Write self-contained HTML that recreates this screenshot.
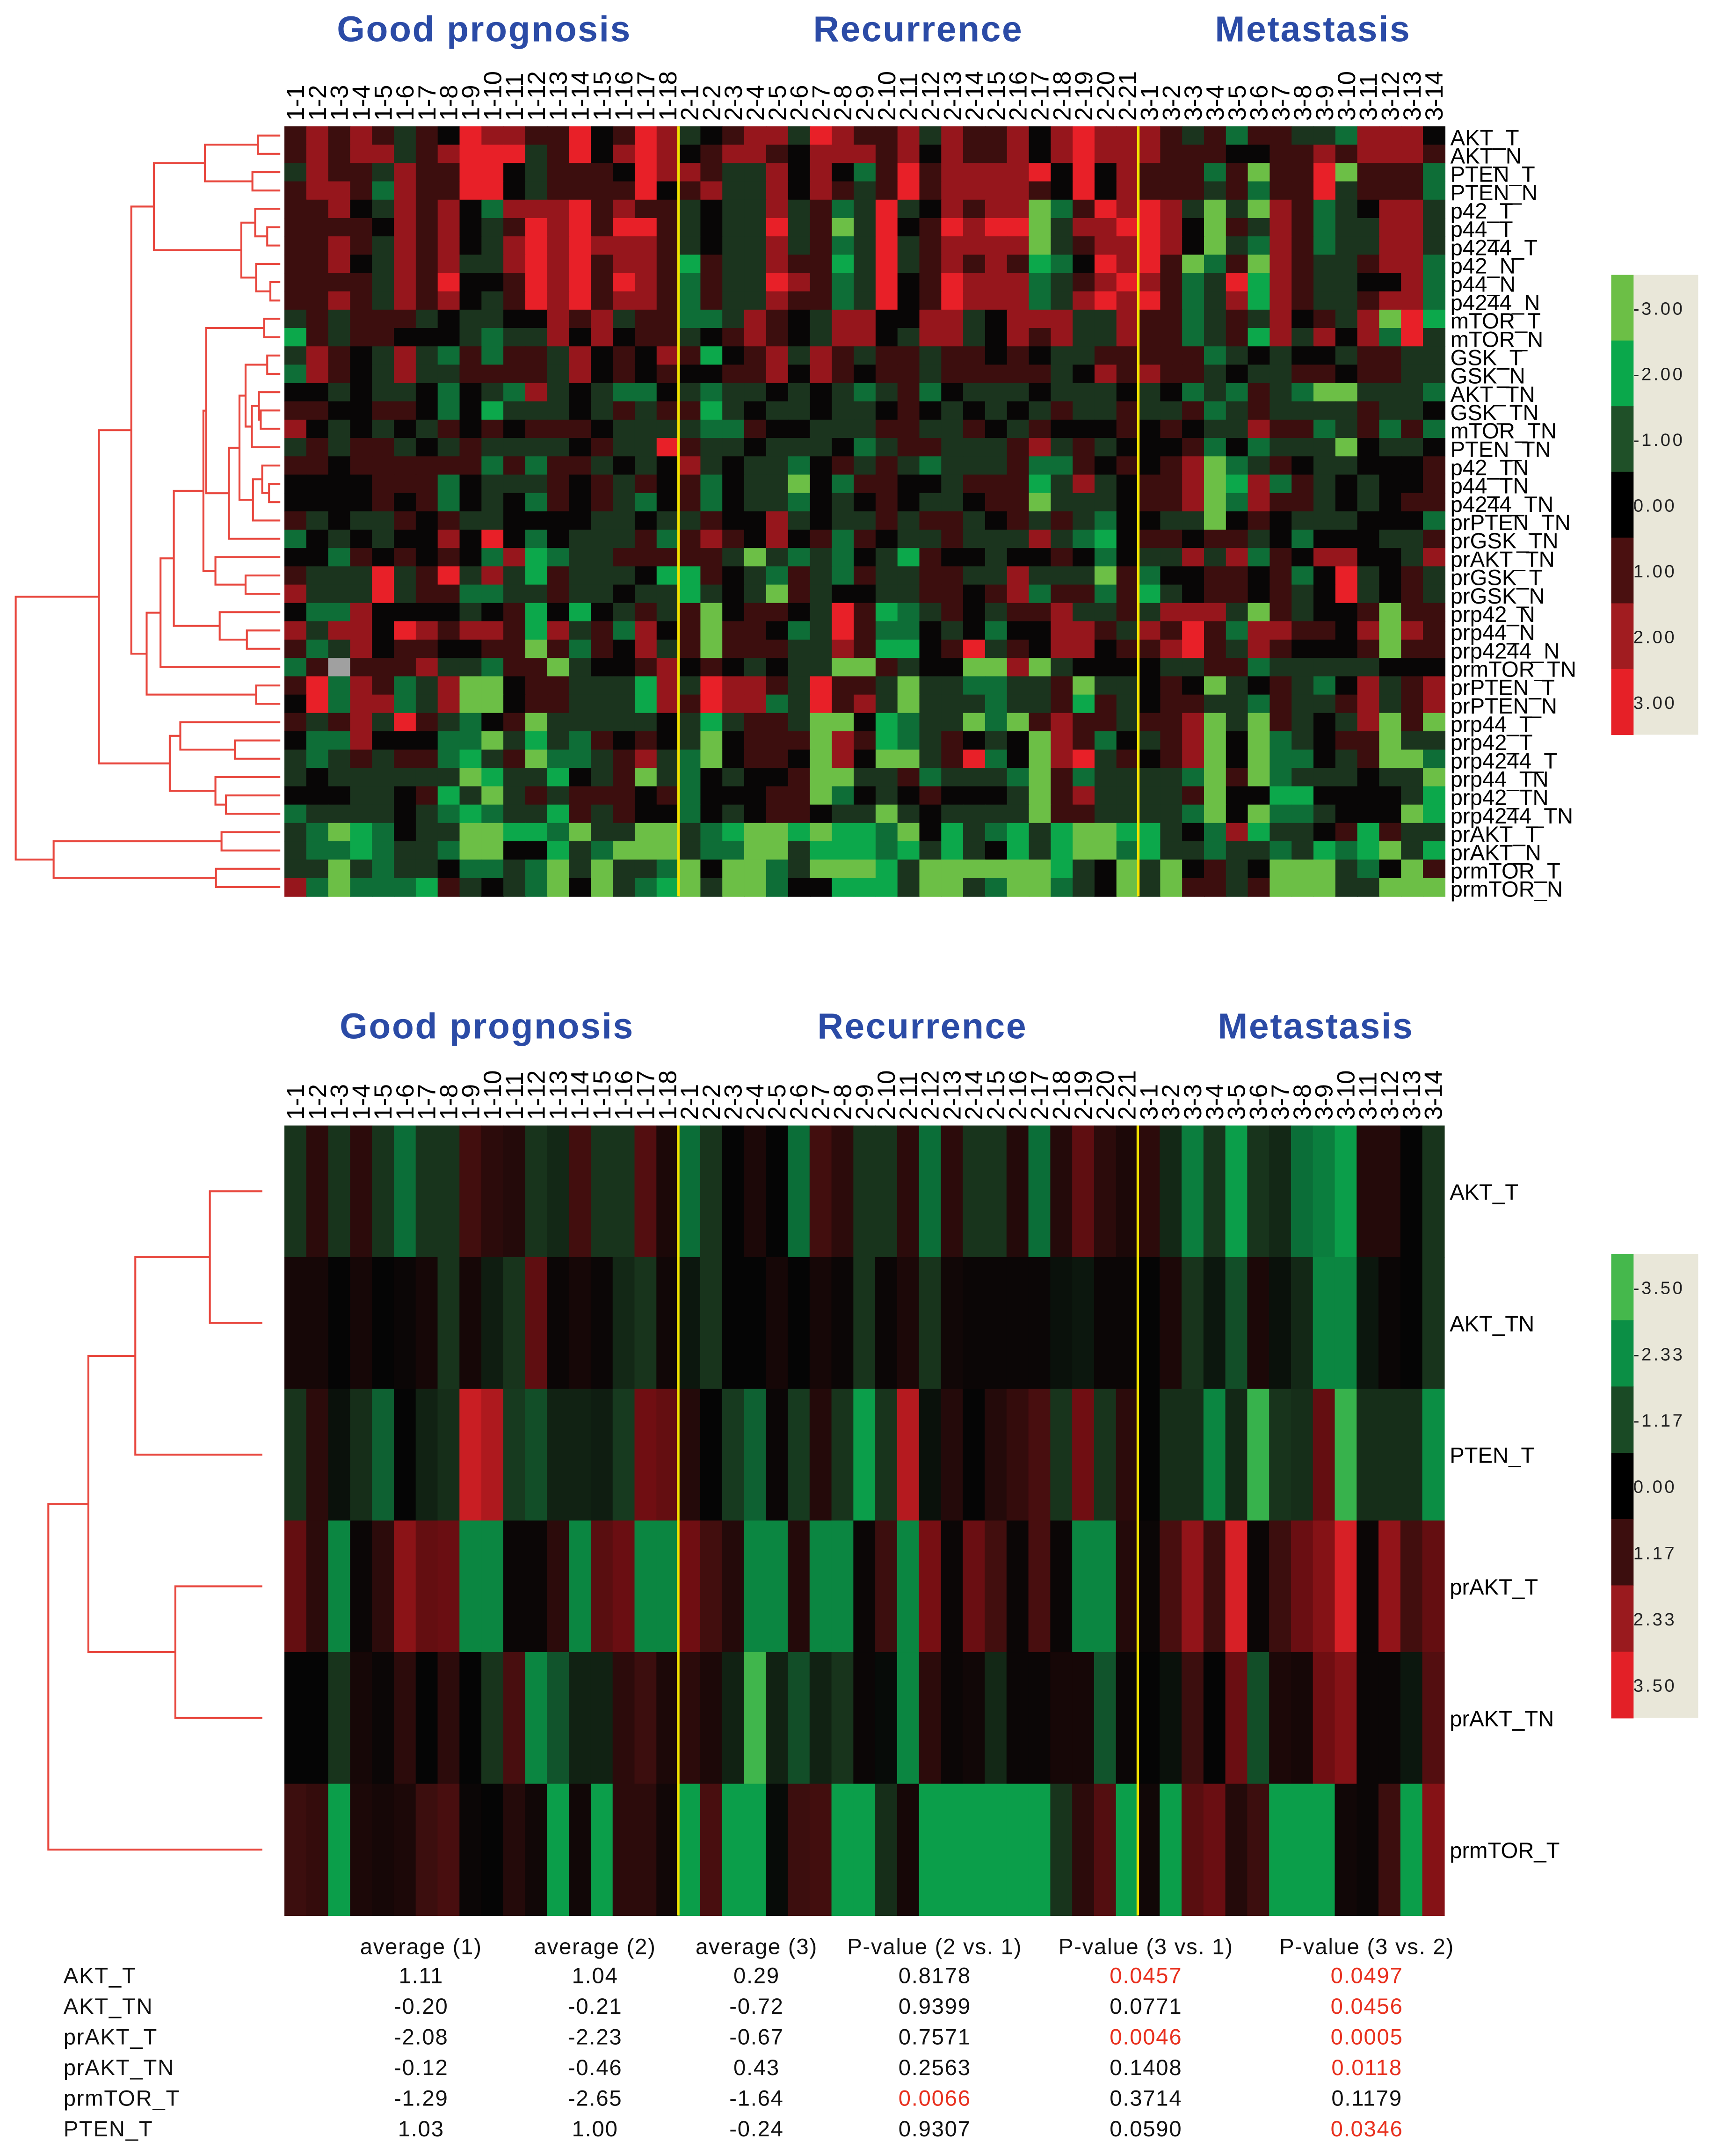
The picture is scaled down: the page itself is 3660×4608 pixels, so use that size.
<!DOCTYPE html>
<html><head><meta charset="utf-8"><title>Heatmap</title>
<style>
html,body{margin:0;padding:0;background:#fff;}
svg{display:block;}
.ttl{font-family:"Liberation Sans",sans-serif;font-weight:bold;font-size:26px;fill:#2b4ba6;letter-spacing:0.9px;}
.cl{font-family:"Liberation Sans",sans-serif;font-size:18px;fill:#000;}
.rl{font-family:"Liberation Sans",sans-serif;font-size:16px;fill:#000;}
.sc{font-family:"Liberation Sans",sans-serif;font-size:13px;fill:#222;letter-spacing:1.5px;}
.tb{font-family:"Liberation Sans",sans-serif;font-size:16px;fill:#111;letter-spacing:0.6px;}
</style></head>
<body>
<svg id="fig" xmlns="http://www.w3.org/2000/svg" width="3660" height="4608" viewBox="0 0 1240 1561.2" preserveAspectRatio="none">
<rect x="0" y="0" width="1240" height="1562" fill="#fff"/>
<text class="ttl" x="244" y="30">Good prognosis</text>
<text class="ttl" x="589" y="30">Recurrence</text>
<text class="ttl" x="880" y="30">Metastasis</text>
<text class="ttl" x="246" y="752">Good prognosis</text>
<text class="ttl" x="592" y="752">Recurrence</text>
<text class="ttl" x="882" y="752">Metastasis</text>
<g id="gTop"></g>
<g id="gBot"></g>
<g id="gTable"></g>
</svg>
<script>
const colLabels = ["1-1","1-2","1-3","1-4","1-5","1-6","1-7","1-8","1-9","1-10","1-11","1-12","1-13","1-14","1-15","1-16","1-17","1-18",
"2-1","2-2","2-3","2-4","2-5","2-6","2-7","2-8","2-9","2-10","2-11","2-12","2-13","2-14","2-15","2-16","2-17","2-18","2-19","2-20","2-21",
"3-1","3-2","3-3","3-4","3-5","3-6","3-7","3-8","3-9","3-10","3-11","3-12","3-13","3-14"];
const groupBreaks = [18, 39];
const topRowLabels = ["AKT_T","AKT_N","PTEN_T","PTEN_N","p42_T","p44_T","p4244_T","p42_N","p44_N","p4244_N","mTOR_T","mTOR_N","GSK_T","GSK_N","AKT_TN","GSK_TN","mTOR_TN","PTEN_TN","p42_TN","p44_TN","p4244_TN","prPTEN_TN","prGSK_TN","prAKT_TN","prGSK_T","prGSK_N","prp42_N","prp44_N","prp4244_N","prmTOR_TN","prPTEN_T","prPTEN_N","prp44_T","prp42_T","prp4244_T","prp44_TN","prp42_TN","prp4244_TN","prAKT_T","prAKT_N","prmTOR_T","prmTOR_N"];
const topValues = [
[1,2,1,2,1,-1,1,0,3,2,2,1,1,3,0,1,3,2,-1,0,1,2,2,-1,3,2,1,1,2,-1,2,1,1,2,0,2,3,2,2,2,1,-1,1,-2,1,1,-1,-1,-2,2,2,2,0],
[1,2,1,2,2,-1,1,2,3,3,3,-1,1,3,0,2,3,2,0,1,2,2,1,0,2,2,2,1,2,0,2,1,1,2,0,2,3,2,2,2,1,1,1,0,0,1,1,2,1,2,2,2,1],
[-1,2,1,1,-1,2,1,1,3,3,0,-1,1,1,1,0,3,2,2,1,-1,-1,2,0,2,0,-2,1,3,1,2,2,2,2,3,0,3,0,2,1,1,1,-2,1,-3,1,1,3,-3,1,1,1,-2],
[1,2,2,1,-2,2,1,1,3,3,0,-1,1,1,1,1,3,0,1,2,-1,-1,2,0,2,1,-1,1,3,1,2,2,2,2,1,0,3,0,2,1,1,1,-1,1,-2,1,1,3,-1,1,1,1,-2],
[1,1,2,0,-1,2,1,2,0,-2,2,2,2,3,1,2,1,1,-1,0,-1,-1,2,-1,1,-2,-1,3,-1,0,2,1,2,2,-3,-2,1,3,2,3,2,-1,-3,-1,-3,2,1,-2,-1,0,2,2,-1],
[1,1,1,1,0,2,1,2,0,-1,1,3,2,3,1,3,3,1,-1,0,-1,-1,3,-1,1,-3,-1,3,0,1,3,2,3,3,-3,-1,2,2,3,3,2,0,-3,1,-1,2,1,-2,-1,-1,2,2,-1],
[1,1,2,1,-1,2,1,2,0,-1,2,3,2,3,2,2,2,1,-1,0,-1,-1,2,-1,1,-2,-1,3,-1,1,2,2,2,2,-3,-1,1,2,2,3,2,0,-3,-1,-2,2,1,-2,-1,-1,2,2,-1],
[1,1,2,0,-1,2,1,2,-1,-1,2,3,2,3,1,2,2,1,-2.5,1,-1,-1,2,1,1,-2.5,-1,3,-1,1,2,1,2,1,-2.5,-2,0,3,2,3,1,-3,-2,1,-3,2,1,-1,-1,1,2,2,-2],
[1,1,1,1,-1,2,1,3,0,0,1,3,2,3,1,3,2,1,-2,1,-1,-1,3,2,1,-2,-1,3,0,1,3,2,2,2,-2,-1,1,2,3,2,1,-2,-1,3,-2.5,2,1,-1,-1,0,0,2,-2],
[1,1,2,1,-1,2,1,2,0,-1,1,3,2,3,1,2,2,1,-2,1,-1,-1,2,1,1,-2,-1,3,0,1,3,2,2,2,-2,-1,2,3,2,3,1,-2,-1,2,-2.5,2,1,-1,-1,1,2,2,-2],
[-1,1,-1,1,1,1,-1,0,-1,-1,0,0,2,1,2,-1,1,1,-2,-2,-1,2,1,0,-1,2,2,0,0,2,2,-1,0,2,2,2,-1,-1,2,1,1,-2,-1,1,-1,2,0,1,-1,2,-3,3,-2.5],
[-2.5,1,-1,1,1,0,0,0,-1,-2,-1,-1,2,0,2,0,1,1,-1,0,1,2,1,0,-1,2,2,0,-1,2,2,-1,0,2,1,2,-1,-1,2,1,1,-2,-1,1,-2.5,2,-1,2,0,2,-2,3,-1],
[-1,2,1,0,-1,2,-1,-2,1,-2,1,1,-1,2,0,1,0,2,1,-2.5,0,1,2,-1,2,1,-1,1,1,-1,1,1,0,1,0,-1,-1,1,1,1,1,1,-2,-1,0,-1,0,0,-1,1,1,-1,-1],
[-2,2,1,0,-1,2,-1,-1,1,1,1,1,-1,2,0,1,0,1,0,0,1,1,2,0,2,1,0,1,1,-1,1,1,1,1,1,-1,0,2,1,2,1,1,-1,0,-1,-1,1,1,0,1,1,-1,-1],
[0,0,-1,0,-1,-1,0,-2,0,-1,-2,2,-1,0,-1,-2,-2,0,-1,-2,-1,-1,0,-1,0,-1,-2,-1,1,-2,0,-1,-1,-1,0,-1,-1,-1,0,-1,0,-2,-1,-2,1,-1,-2,-3,-3,-1,-1,-1,-2],
[1,1,0,0,1,1,0,-2,0,-2.5,-1,-1,-1,0,-1,1,-1,1,1,-2.5,-1,0,-1,-1,0,-1,-1,0,1,0,-1,0,-1,0,-1,1,-1,-1,1,-1,-1,1,-2,-1,1,-1,-1,-1,-1,1,-1,-1,0],
[2,0,-1,0,-1,0,-1,1,0,1,0,1,1,1,0,-1,-1,-1,-1,-2,-2,1,0,0,-1,-1,-1,1,1,-1,-1,1,0,-1,1,0,0,0,1,0,1,0,-1,-1,2,1,1,-2,-1,1,-2,1,-2],
[-1,1,-1,1,1,-1,0,-1,1,-1,-1,-1,-1,0,1,-1,-1,3,1,-1,-1,0,-1,-1,-1,0,-2,-1,1,1,-1,-1,-1,1,2,-1,1,-1,0,0,0,1,-2,0,-2,-1,-1,-1,-3,0,-1,-1,0],
[1,1,0,1,1,1,1,1,1,-2,1,-2,1,1,-1,0,-1,0,2,-1,0,-1,-1,-2,0,1,-1,1,-1,-2,-1,-1,-1,1,-2,-2,1,0,1,0,1,2,-3,-2,-1,1,0,-1,-1,0,0,0,1],
[0,0,0,0,1,1,1,-2,0,-1,-1,-1,1,0,1,-1,1,0,1,-2,0,-1,-1,-3,0,-2,1,1,0,0,-1,1,1,1,-2.5,-1,2,-1,0,1,1,2,-3,-2.5,2,-2,1,-1,0,-1,0,0,1],
[0,0,0,0,1,0,1,-2,0,-1,0,-2,1,0,1,-1,-2,0,1,-2,0,-1,-1,-2,0,-1,0,1,0,-1,-1,0,1,1,-3,-1,-1,-1,0,1,1,2,-3,-2,2,1,1,-1,0,-1,0,1,1],
[1,-1,0,-1,-1,1,0,1,-1,-1,0,0,0,0,-1,-1,0,-1,-1,1,0,0,2,-1,0,-1,-1,1,-1,1,1,-1,0,1,-1,1,-1,-2,0,0,-1,-1,-3,0,1,0,-1,-1,-1,0,0,0,-2],
[-2,0,-1,0,-1,0,0,2,0,3,0,-2,0,-1,-1,-1,1,-2,1,2,1,0,2,0,1,-2,1,0,-1,-1,1,-1,-1,-1,2,-1,-2,-2.5,0,1,1,0,1,1,-1,0,-2,0,0,0,-1,-1,1],
[0,0,-2,1,0,1,0,1,0,-2,2,-2.5,-2,-1,-1,1,1,1,1,1,-1,-3,-1,-2,-1,-2,0,-1,-2.5,1,0,0,-1,0,0,1,0,-2,0,-1,-1,2,-1,2,-2,1,0,2,2,0,0,-1,2],
[1,-1,-1,-1,3,-1,1,3,-1,2,-1,-2.5,1,-1,-1,-1,0,-2.5,-2.5,1,0,-1,-2,1,-1,-2,1,-1,-1,1,1,-1,-1,2,-1,-1,-1,-3,1,-2,0,0,1,1,0,1,-2,0,3,-1,0,1,-1],
[2,-1,-1,-1,3,-1,1,1,-2,-2,-1,-1,1,-1,-1,0,-1,-1,-2.5,-1,0,-1,-3,1,-1,0,0,-1,-1,1,1,0,1,2,-2,1,1,-2,1,-2.5,-1,0,1,1,0,1,-1,0,3,-1,0,1,-1],
[0,-2,-2,2,0,0,0,0,-1,0,1,-2.5,0,-2.5,0,-1,1,-1,1,-3,0,1,1,0,-1,3,1,-2.5,-2,-1,1,0,-1,1,1,2,-1,-1,1,-1,2,2,2,-1,-3,1,-1,0,0,1,-3,1,1],
[2,-1,2,2,0,3,2,1,2,2,1,-2.5,2,-1,1,-2,2,0,1,-3,1,1,0,-2,-1,3,1,-2,-2,0,-1,0,-2,0,0,2,2,1,-1,2,1,3,1,-2,2,2,1,1,0,2,-3,2,1],
[1,-2,-1,2,0,1,1,0,0,1,1,-3,1,-2,1,0,2,-1,1,-3,1,1,1,-1,-1,2,1,-2.5,-2.5,0,1,3,-1,1,0,2,2,0,1,1,2,3,1,-1,2,1,0,0,0,1,-3,1,1],
[-2,1,null,1,1,1,2,-1,-1,-2,1,1,-3,-1,0,0,1,2,0,1,0,-1,0,-1,-1,-3,-3,1,-1,0,0,-3,-3,2,-3,-1,0,0,0,0,-1,-1,1,1,-2,-1,-1,-1,-1,-1,0,0,0],
[1,3,-2,2,1,-2,-1,2,-3,-3,0,1,1,-1,-1,-1,-2.5,2,-1,3,2,2,1,-1,3,1,1,-1,-3,-1,-1,-2,-2,-1,-1,1,-3,-1,-1,0,1,0,-3,-1,0,1,-1,-2,0,2,-1,1,2],
[0,3,-2,2,2,-2,-1,2,-3,-3,0,1,1,-1,-1,-1,-2.5,2,1,3,2,2,-2,-1,3,1,2,-1,-3,-1,-1,-1,-2,-1,-1,1,-2.5,1,-1,0,1,1,-1,-1,-2,1,-1,-1,1,2,-1,1,2],
[1,-1,1,2,-1,3,1,-1,-2,0,1,-3,-1,-1,-1,-1,-1,0,-1,-2.5,-1,1,1,-1,-3,-3,0,-2.5,-2,-1,-1,-3,-2,-3,1,2,1,1,-1,1,1,2,-3,-1,-3,1,-1,0,-1,2,-3,1,-3],
[0,-2,-2,2,0,0,0,-2,-2,-3,-1,-2.5,-1,-2,1,0,1,0,-1,-3,0,1,1,1,-3,2,1,-2.5,-2,-1,1,0,-1,0,-3,2,1,-2,0,-1,1,2,-3,0,-3,-2,-1,0,1,1,-3,-1,-1],
[-1,-2,-1,1,-1,1,1,-2,-2.5,-1,1,-3,-2,-2,-1,1,2,-1,-2,-3,0,1,1,0,-3,2,0,-3,-3,-1,1,3,-2,0,-3,2,3,-1,1,0,1,2,-3,0,-3,-2,-2,0,-1,1,-3,-3,-2],
[-1,0,-1,-1,-1,-1,-1,-1,-3,-2.5,-1,-1,-2.5,0,-1,1,-3,-1,-2,0,-1,0,0,1,-3,-3,-1,-1,1,-2,-1,-1,-1,-2,-3,1,-2,-1,-1,-1,-1,-2,-3,1,-3,-2,-1,-1,-1,0,-1,-1,-3],
[0,0,0,-1,-1,0,1,-2.5,-1,-3,-1,1,-1,1,1,1,0,1,-2,0,0,0,1,1,-3,-2,0,-1,0,1,0,0,0,-1,-3,1,2,-1,-1,-1,-1,1,-3,0,0,-2.5,-2.5,0,0,0,0,-1,-2.5],
[-2,-1,-1,-1,-1,0,-1,-2,-2.5,-2,-1,-1,-2.5,1,-1,1,0,0,-2,0,-1,0,1,1,0,-1,-1,-3,-1,0,-1,-1,-1,-1,-3,1,1,-1,-1,-1,-1,-2,-3,0,-3,-2,-2,-1,0,0,0,-3,-2.5],
[-1,-2,-3,-2.5,-2,0,-1,-1,-3,-3,-2.5,-2.5,-2,-3,-1,-1,-3,-3,-1,-2,-2.5,-3,-3,-2.5,-3,-2.5,-2.5,-2,-3,0,-2.5,-1,-2,-2.5,-1,-2.5,-3,-3,-2.5,-2.5,-1,0,-2,2,-2.5,-1,-1,0,1,-2.5,1,-1,-1],
[-1,-2,-2,-2.5,-2,-1,-1,-2,-3,-3,0,0,-2.5,-1,-2,-3,-3,-3,-1,-2,-2,-3,-3,-1,-2.5,-2.5,-2.5,-2,-2.5,-1,-2.5,-1,0,-2.5,-1,-2.5,-3,-3,-2,-2.5,-1,-1,-2,-1,-1,-2,-1,-2.5,-2,-2.5,-3,-1,-2.5],
[-1,-1,-3,-1,-2,-1,-1,0,-2,-2,-1,-2,-3,-1,-3,-1,-1,-2,-3,0,-3,-3,-2,-1,-3,-3,-3,-2.5,-1,-3,-3,-3,-3,-3,-3,-2.5,-1,0,-3,-1,-3,0,1,-1,0,-3,-3,-3,-1,-2,0,-3,1],
[2,-2,-3,-2,-2,-2,-2.5,1,-1,0,-1,-2,-3,0,-3,-1,-2,-2.5,-3,-1,-3,-3,-2,0,0,-2.5,-2.5,-2.5,-1,-3,-3,-1,-2,-3,-3,-2,-1,0,-3,-1,-3,1,1,-1,1,-3,-3,-3,-1,-1,-3,-3,-3]
];
const botRowLabels = ["AKT_T","AKT_TN","PTEN_T","prAKT_T","prAKT_TN","prmTOR_T"];
const botValues = [
[-0.8,0.6,-0.8,0.6,-0.8,-1.7,-0.8,-0.8,0.9,0.6,0.5,-0.8,-0.6,0.9,-0.8,-0.8,1.2,0.4,-1.7,-0.8,0,0.4,0,-1.7,0.9,0.6,-0.8,-0.8,0.6,-1.7,0.6,-0.8,-0.8,0.5,-1.7,0.5,1.4,0.6,0.4,0.6,-0.6,-1.9,-0.8,-2.3,-0.8,-0.6,-1.7,-1.9,-2.3,0.5,0.5,0,-0.8],
[0.3,0.3,0,0.3,0,0.1,0.3,-0.8,0.3,-0.4,-0.8,1.4,0.1,0.3,0.1,-0.6,-0.8,0.2,-0.3,-0.8,0,0,0.3,0,0.3,0.1,-0.8,0.1,0.4,-0.8,0.2,0.1,0.1,0.1,0.1,-0.2,-0.3,0.1,0.1,0,0.4,-0.8,-0.3,-1.2,0.4,-0.2,-0.6,-2,-2,-0.3,0.1,0,-0.8],
[-0.8,0.6,-0.2,-0.7,-1.5,0,-0.5,-0.7,3,2.6,-0.9,-1.2,-0.5,-0.5,-0.4,-0.9,1.7,1.5,0.5,0,-0.9,-1.5,0.1,-0.9,0.5,-0.8,-2.3,-0.8,2.7,-0.2,0.5,0,0.5,0.7,1,-0.8,1.7,-0.8,0.6,0,-0.7,-0.7,-2,-0.6,-3.2,-0.8,-0.7,1.5,-3.2,-0.7,-0.7,-0.7,-2.1],
[1.5,0.6,-2,0.1,0.6,2.1,1.5,1.6,-2,-2,0.1,0.1,0.6,-2,1.3,1.6,-2,-2,1.7,0.9,0.5,-2,-2,0.5,-2,-2,0.1,0.8,-2,1.8,0.1,1.6,0.9,0.1,1,0.1,-2,-2,0.5,0.1,1,2.2,0.8,3.3,0.1,0.8,1.6,2,3.2,0.1,2.2,0.9,1.5],
[0,0,-0.8,0.3,0.1,0.6,0,0.6,0,-0.8,1,-2,-1.3,-0.5,-0.5,0.6,0.8,0.4,0.6,0.4,-0.5,-3.4,-0.5,-1.2,-0.5,-0.8,0.1,-0.1,-2,0.6,0.1,0.2,-0.6,0.1,0.1,0.3,0.3,-1.3,0.1,0,-0.2,0.8,0,1.6,-1.2,0.4,0.3,1.7,2,0.1,0.1,-0.3,1.2],
[0.8,0.7,-2.3,0.4,0.3,0.4,0.8,1,0.1,0,0.5,0.2,-2.3,0.2,-2.3,0.6,0.6,0.2,-2.3,1,-2.3,-2.3,-0.1,0.8,0.9,-2.3,-2.3,-0.7,0.3,-2.3,-2.3,-2.3,-2.3,-2.3,-2.3,-0.8,0.6,1.2,-2.3,0.2,-2.3,1.3,1.6,0.5,0.8,-2.3,-2.3,-2.3,0.2,0.1,0.8,-2.3,2]
];
const topScaleLabels = ["-3.00","-2.00","-1.00","0.00","1.00","2.00","3.00"];
const topScaleColors = ["#6cbf46","#0aa84b","#1f5028","#000000","#4a1010","#a11c20","#e62027"];
const botScaleLabels = ["-3.50","-2.33","-1.17","0.00","1.17","2.33","3.50"];
const botScaleColors = ["#45b84c","#0b8f45","#1a4a25","#000000","#3c0e0e","#9a1a1e","#e32027"];
const tableHeaders = ["average (1)","average (2)","average (3)","P-value (2 vs. 1)","P-value (3 vs. 1)","P-value (3 vs. 2)"];
const tableRowLabels = ["AKT_T","AKT_TN","prAKT_T","prAKT_TN","prmTOR_T","PTEN_T"];
const avg1 = ["1.11","-0.20","-2.08","-0.12","-1.29","1.03"];
const avg2 = ["1.04","-0.21","-2.23","-0.46","-2.65","1.00"];
const avg3 = ["0.29","-0.72","-0.67","0.43","-1.64","-0.24"];
const p21 = ["0.8178","0.9399","0.7571","0.2563","0.0066","0.9307"];
const p31 = ["0.0457","0.0771","0.0046","0.1408","0.3714","0.0590"];
const p32 = ["0.0497","0.0456","0.0005","0.0118","0.1179","0.0346"];
const topTree = [85,[535,[710,[832,[1108,[1395,0,1],[1365,2,3]],[1305,[1380,4,[1445,5,6]],[1385,7,[1462,8,9]]]],[793,[868,[940,[1100,[1115,[1428,10,11],[1238,[1295,[1328,[1445,12,13],[1362,[1400,14,[1410,15,16]],17]],[1368,[1418,18,[1455,19,20]],21]],22]],[1165,23,[1328,24,25]]],[1188,26,[1335,27,28]]],29],[1385,30,31]]],[918,[975,32,[1270,33,34]],[1165,35,[1222,36,37]]]],[290,[1198,38,39],[1168,40,41]]];
const botTree = [35,[64,[98,[152,0,1],2],[127,3,4]],5];

const NS = "http://www.w3.org/2000/svg";
function mk(tag, attrs, parent){
  const e = document.createElementNS(NS, tag);
  for (const k in attrs) e.setAttribute(k, attrs[k]);
  parent.appendChild(e);
  return e;
}
function rgb(a){return "rgb("+a[1]+","+a[2]+","+a[3]+")";}
function lerpColor(anchors, v){
  if (v === null || v === undefined) return "#a0a0a0";
  if (v <= anchors[0][0]) return rgb(anchors[0]);
  for (let i=1;i<anchors.length;i++){
    if (v <= anchors[i][0]){
      const a=anchors[i-1], b=anchors[i], t=(v-a[0])/(b[0]-a[0]);
      return "rgb("+Math.round(a[1]+(b[1]-a[1])*t)+","+Math.round(a[2]+(b[2]-a[2])*t)+","+Math.round(a[3]+(b[3]-a[3])*t)+")";
    }
  }
  return rgb(anchors[anchors.length-1]);
}
const topAnchors = [[-3,108,191,70],[-2.5,12,168,75],[-2,14,110,55],[-1,27,52,30],[0,8,6,6],[1,60,14,14],[2,150,22,28],[3,232,32,40]];
const botAnchors = [[-3.5,69,184,76],[-2.3,11,158,74],[-1.7,11,110,56],[-0.8,24,52,28],[0,5,5,5],[0.4,28,8,8],[0.8,60,14,14],[1.7,112,14,18],[3.2,215,32,38]];

function drawHeatmap(g, cfg){
  const nCols = colLabels.length, nRows = cfg.values.length;
  const cw = (cfg.right - cfg.left)/nCols, rh = (cfg.bottom - cfg.top)/nRows;
  const xScale = i => cfg.left + i*cw;
  const yScale = r => cfg.top + r*rh;
  for (let r=0;r<nRows;r++){
    const row = cfg.values[r];
    for (let c=0;c<nCols;c++){
      const cell = mk("rect",{x:xScale(c).toFixed(2),y:yScale(r).toFixed(2),width:(cw+0.4).toFixed(2),height:(rh+0.4).toFixed(2),fill:lerpColor(cfg.anchors,row[c])},g);
      
      
    }
  }
  for (const b of groupBreaks){
    const ln = mk("line",{x1:xScale(b),x2:xScale(b),y1:cfg.top,y2:cfg.bottom,stroke:"#f2e200","stroke-width":1.8},g);
    
    
  }
  for (let c=0;c<nCols;c++){
    const cx = xScale(c)+cw/2+6.3, cy = cfg.top-4;
    const t = mk("text",{class:"cl",transform:"translate("+cx.toFixed(2)+","+cy+") rotate(-90)"},g);
    t.textContent = colLabels[c];
    
    
  }
  for (let r=0;r<nRows;r++){
    const t = mk("text",{class:"rl",x:cfg.right+4,y:(yScale(r)+rh/2+cfg.labelDy).toFixed(2)},g);
    t.textContent = cfg.labels[r];
    
    
  }
  let d = "";
  function walk(n){
    if (typeof n === "number") return {x:cfg.leafX, y:yScale(n)+rh/2};
    const a = walk(n[1]), b = walk(n[2]);
    const h = n[0]*cfg.treeScale;
    d += "M"+a.x.toFixed(2)+","+a.y.toFixed(2)+"H"+h.toFixed(2)+"V"+b.y.toFixed(2)+"H"+b.x.toFixed(2);
    return {x:h, y:(a.y+b.y)/2};
  }
  walk(cfg.tree);
  const p = mk("path",{d:d,fill:"none",stroke:"#e8483f","stroke-width":1.4},g);
  
  
  const segH = (cfg.scaleBottom - cfg.scaleTop)/cfg.scaleColors.length;
  const bg = mk("rect",{x:1183,y:cfg.scaleTop,width:47,height:cfg.scaleBottom-cfg.scaleTop,fill:"#e9e7d9"},g);
  
  
  for (let i=0;i<cfg.scaleColors.length;i++){
    const s = mk("rect",{x:1167,y:(cfg.scaleTop+i*segH).toFixed(2),width:16.2,height:(segH+0.3).toFixed(2),fill:cfg.scaleColors[i]},g);
    
    
    const t = mk("text",{class:"sc",x:1183,y:(cfg.scaleTop+i*segH+segH/2+5).toFixed(2)},g);
    t.textContent = cfg.scaleLabels[i];
    
    
  }
}
drawHeatmap(document.getElementById("gTop"), {values:topValues, labels:topRowLabels, anchors:topAnchors, left:206, right:1046.5, top:91.5, bottom:649, labelDy:7, tree:topTree, treeScale:1/7.466, leafX:203, scaleTop:199, scaleBottom:532, scaleColors:topScaleColors, scaleLabels:topScaleLabels});
drawHeatmap(document.getElementById("gBot"), {values:botValues, labels:botRowLabels, anchors:botAnchors, left:206, right:1046, top:815, bottom:1387, labelDy:6, tree:botTree, treeScale:1, leafX:190, scaleTop:908, scaleBottom:1244, scaleColors:botScaleColors, scaleLabels:botScaleLabels});

(function(){
  const g = document.getElementById("gTable");
  const colX = [305,431,548,677,830,990];
  const cols = [avg1,avg2,avg3,p21,p31,p32];
  for (let j=0;j<tableHeaders.length;j++){
    const t = mk("text",{class:"tb",x:colX[j],y:1415,"text-anchor":"middle"},g);
    t.textContent = tableHeaders[j];
    
    
  }
  for (let i=0;i<tableRowLabels.length;i++){
    const y = 1436 + i*22.2;
    const lb = mk("text",{class:"tb",x:46,y:y.toFixed(1)},g);
    lb.textContent = tableRowLabels[i];
    
    
    for (let j=0;j<cols.length;j++){
      const v = cols[j][i];
      const t = mk("text",{class:"tb",x:colX[j],y:y.toFixed(1),"text-anchor":"middle"},g);
      if (j>=3 && parseFloat(v) < 0.05) t.setAttribute("style","fill:#e8301e");
      t.textContent = v;
      
      
    }
  }
})();
</script>
</body></html>
